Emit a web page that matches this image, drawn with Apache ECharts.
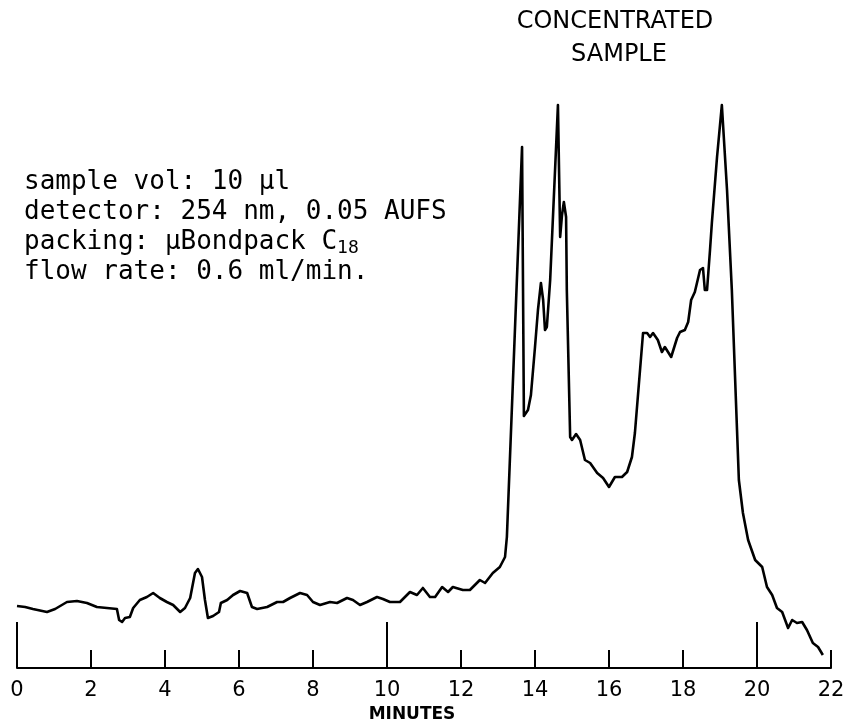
<!DOCTYPE html>
<html>
<head>
<meta charset="utf-8">
<script src="https://cdn.jsdelivr.net/npm/echarts@6/dist/echarts.min.js"></script>
<style>
  html, body { margin: 0; padding: 0; background: #fff; }
  #chart { width: 848px; height: 727px; }
</style>
</head>
<body>
<div id="chart"></div>
<script>
// Retention time (minutes) of each trace point
const timeMin = [
  0.00, 0.22, 0.43, 0.81, 1.03, 1.35, 1.62, 1.89, 2.16, 2.43,
  2.70, 2.76, 2.84, 2.92, 3.05, 3.14, 3.32, 3.51, 3.68, 3.86,
  4.05, 4.22, 4.41, 4.54, 4.68, 4.81, 4.89, 5.00, 5.08, 5.16,
  5.30, 5.46, 5.51, 5.68, 5.84, 6.03, 6.22, 6.35, 6.49, 6.76,
  7.03, 7.19, 7.38, 7.65, 7.84, 8.00, 8.19, 8.46, 8.65, 8.92,
  9.08, 9.27, 9.46, 9.73, 9.89, 10.08, 10.35, 10.62, 10.81, 10.97,
  11.16, 11.30, 11.49, 11.65, 11.78, 12.05, 12.24, 12.51, 12.65, 12.86,
  13.05, 13.19, 13.24, 13.65, 13.70, 13.81, 13.89, 14.00, 14.08, 14.16,
  14.22, 14.27, 14.32, 14.41, 14.62, 14.68, 14.73, 14.78, 14.84, 14.86,
  14.95, 15.00, 15.11, 15.22, 15.35, 15.49, 15.68, 15.84, 16.00, 16.16,
  16.35, 16.49, 16.62, 16.70, 16.92, 17.03, 17.11, 17.19, 17.32, 17.43,
  17.51, 17.68, 17.84, 17.92, 18.05, 18.14, 18.22, 18.32, 18.46, 18.54,
  18.59, 18.65, 18.73, 18.78, 18.92, 19.05, 19.19, 19.32, 19.46, 19.51,
  19.62, 19.76, 19.95, 20.14, 20.27, 20.41, 20.54, 20.68, 20.84, 20.95,
  21.08, 21.22, 21.35, 21.51, 21.65, 21.78
];

// Detector response (arbitrary units) at each time point
const response = [
  62, 61, 59, 56, 59, 66, 67, 65, 61, 60,
  59, 48, 46, 50, 51, 60, 68, 71, 75, 70,
  66, 63, 56, 60, 70, 95, 99, 91, 68, 50,
  52, 56, 65, 68, 73, 77, 75, 61, 59, 61,
  66, 66, 70, 75, 73, 66, 63, 66, 65, 70,
  68, 63, 66, 71, 69, 66, 66, 76, 73, 80,
  71, 71, 81, 76, 81, 78, 78, 88, 85, 95,
  101, 111, 131, 521, 252, 258, 273, 321, 358, 385,
  368, 338, 341, 388, 563, 431, 453, 466, 451, 378,
  231, 228, 234, 228, 208, 205, 195, 190, 181, 191,
  191, 196, 211, 235, 335, 335, 331, 335, 328, 316,
  321, 311, 330, 336, 338, 346, 368, 376, 398, 400,
  378, 378, 418, 445, 511, 563, 478, 378, 238, 188,
  155, 128, 108, 101, 81, 73, 60, 56, 40, 48,
  45, 46, 38, 25, 21, 13
];

// Minutes that get the taller tick marks
const majorTicks = [0, 10, 20];

// Run conditions printed on the chart
const conditionLines = [
  'sample vol: 10 µl',
  'detector: 254 nm, 0.05 AUFS',
  'packing: µBondpack C{sub|18}',
  'flow rate: 0.6 ml/min.'
];

const titleLines = ['CONCENTRATED', 'SAMPLE'];
const axisTitle = 'MINUTES';

const trace = timeMin.map((t, i) => [t, response[i]]);

const chart = echarts.init(document.getElementById('chart'), null, { renderer: 'canvas' });

const axisBase = {
  type: 'value',
  min: 0,
  max: 22,
  splitLine: { show: false }
};

chart.setOption({
  animation: false,
  backgroundColor: '#ffffff',
  grid: { left: 17, right: 17, top: 0, bottom: 59, containLabel: false },
  xAxis: [
    Object.assign({}, axisBase, {
      interval: 2,
      axisLine: { show: true, lineStyle: { color: '#000', width: 2 } },
      axisTick: { show: true, inside: true, length: 18, lineStyle: { color: '#000', width: 2 } },
      axisLabel: {
        show: true,
        margin: 12,
        color: '#000',
        fontFamily: 'DejaVu Sans',
        fontSize: 21
      }
    }),
    // taller marks every 10 minutes
    Object.assign({}, axisBase, {
      position: 'bottom',
      interval: 10,
      axisLine: { show: false },
      axisTick: {
        show: true, inside: true, length: 46,
        customValues: majorTicks,
        lineStyle: { color: '#000', width: 2 }
      },
      axisLabel: { show: false }
    })
  ],
  yAxis: {
    type: 'value',
    min: 0,
    max: 668,
    show: false,
    splitLine: { show: false }
  },
  series: [{
    type: 'line',
    xAxisIndex: 0,
    data: trace,
    showSymbol: false,
    smooth: false,
    lineStyle: { color: '#000', width: 2.6, join: 'round' }
  }],
  graphic: [
    {
      type: 'text',
      x: 615, y: 22,
      style: {
        text: titleLines[0],
        fill: '#000',
        font: '24px "DejaVu Sans"',
        align: 'center',
        verticalAlign: 'middle'
      }
    },
    {
      type: 'text',
      x: 619, y: 55,
      style: {
        text: titleLines[1],
        fill: '#000',
        font: '24px "DejaVu Sans"',
        align: 'center',
        verticalAlign: 'middle'
      }
    },
    {
      type: 'text',
      x: 412, y: 715,
      style: {
        text: axisTitle,
        fill: '#000',
        font: 'bold 17px "DejaVu Sans"',
        align: 'center',
        verticalAlign: 'middle'
      }
    },
    {
      type: 'text',
      x: 24, y: 167,
      style: {
        text: conditionLines.join('\n'),
        fill: '#000',
        fontFamily: 'DejaVu Sans Mono',
        fontSize: 26,
        lineHeight: 30,
        align: 'left',
        verticalAlign: 'top',
        rich: {
          sub: {
            fontFamily: 'DejaVu Sans Mono',
            fontSize: 18,
            lineHeight: 30,
            verticalAlign: 'bottom',
            padding: [10, 0, 0, 0]
          }
        }
      }
    }
  ]
});
</script>
</body>
</html>
